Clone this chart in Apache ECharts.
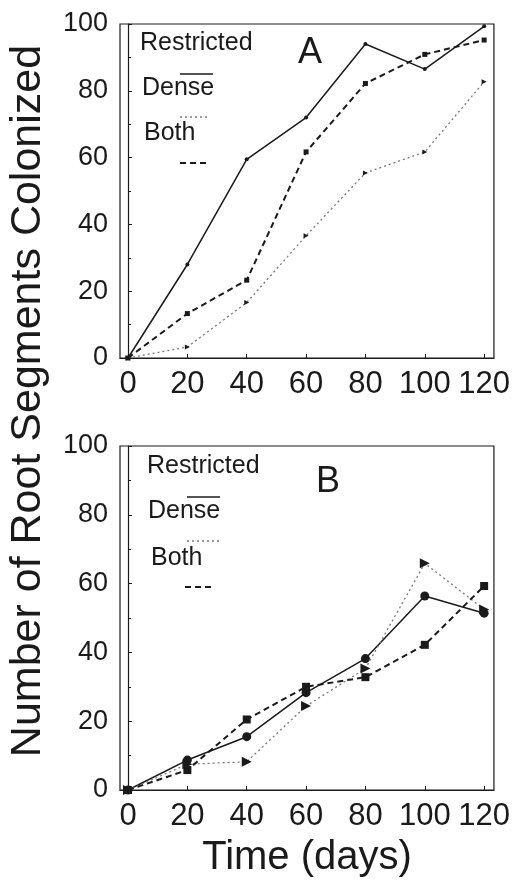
<!DOCTYPE html>
<html>
<head>
<meta charset="utf-8">
<script src="https://cdn.jsdelivr.net/npm/echarts@6/dist/echarts.min.js"></script>
<style>
  html, body { margin: 0; padding: 0; background: #fff; }
  #main { width: 513px; height: 880px; }
</style>
</head>
<body>
<div id="main"></div>
<script>
// days after planting
var days = [0, 20, 40, 60, 80, 100, 120];
var dayTicks = [0, 20, 40, 60, 80, 100, 120];

// panel A
var restrictedA = [0, 28, 59.5, 72, 94, 86.5, 99.3];
var denseA = [0, 3.3, 16.6, 36.6, 55.4, 61.7, 82.7];
var bothA = [0, 13.3, 23.3, 61.7, 82.2, 90.9, 95.2];

// panel B
var restrictedB = [0, 8.7, 15.5, 28.3, 38.2, 56.4, 51.4];
var denseB = [0, 7.5, 8.2, 24.4, 35.3, 65.9, 52.5];
var bothB = [0, 5.8, 20.5, 30, 32.8, 42.2, 59.3];

var FONT = "Liberation Sans, Arial, sans-serif";
var INK = "#1a1a1a";

function pairs(vals) {
  return days.map(function (d, i) { return [d, vals[i]]; });
}

function xAx(idx) {
  return {
    type: "value", gridIndex: idx, min: -2.7, max: 123.3,
    axisLine: { lineStyle: { color: INK, width: 1.2 } },
    axisTick: { customValues: dayTicks, length: 4, inside: true, lineStyle: { color: INK } },
    axisLabel: { customValues: dayTicks, color: INK, fontFamily: FONT, fontSize: 31, margin: 11 },
    splitLine: { show: false }
  };
}
function yAx(idx) {
  return {
    type: "value", gridIndex: idx, min: 0, max: 100, interval: 20,
    axisLine: { show: true, lineStyle: { color: INK, width: 1.2 } },
    axisTick: { show: true, length: 4, inside: true, lineStyle: { color: INK } },
    minorTick: { show: true, splitNumber: 2, length: 3, lineStyle: { color: INK } },
    axisLabel: { color: INK, fontFamily: FONT, fontSize: 27, margin: 12 },
    splitLine: { show: false }
  };
}

var solid = { color: INK, width: 1.5, type: "solid" };
var dotted = { color: "#7a7a7a", width: 1.3, type: [2, 3] };
var dashed = { color: INK, width: 2, type: [6, 4] };

function ser(idx, vals, ls, sym, size, rot) {
  return {
    type: "line", xAxisIndex: idx, yAxisIndex: idx, data: pairs(vals),
    lineStyle: ls, symbol: sym, symbolSize: size, symbolRotate: rot || 0,
    itemStyle: { color: INK }, showSymbol: true, animation: false
  };
}

// legend pieces: label with its line sample under it
function legend(items) {
  var els = [];
  items.forEach(function (it) {
    els.push({ type: "text", left: it.tx, top: it.ty - 14,
      style: { text: it.label, font: "25px " + FONT, fill: INK } });
    els.push({ type: "line", shape: { x1: it.lx1, y1: it.ly, x2: it.lx2, y2: it.ly },
      style: { stroke: it.ls.color, lineWidth: it.ls.width, lineDash: it.ls.type === "solid" ? null : it.ls.type } });
  });
  return els;
}

var graphics = []
  .concat(legend([
    { label: "Restricted", tx: 140, ty: 45, lx1: 180, lx2: 213, ly: 74, ls: solid },
    { label: "Dense", tx: 142, ty: 90, lx1: 180, lx2: 210, ly: 117, ls: dotted },
    { label: "Both", tx: 144, ty: 135, lx1: 180, lx2: 208, ly: 163, ls: dashed }
  ]))
  .concat(legend([
    { label: "Restricted", tx: 147, ty: 468, lx1: 187, lx2: 220, ly: 497, ls: solid },
    { label: "Dense", tx: 148, ty: 513, lx1: 187, lx2: 219, ly: 541, ls: dotted },
    { label: "Both", tx: 151, ty: 560, lx1: 185, lx2: 215, ly: 587, ls: dashed }
  ]))
  .concat([
    { type: "text", x: 310, y: 53, style: { text: "A", font: "36px " + FONT, fill: INK, align: "center", verticalAlign: "middle" } },
    { type: "text", x: 328, y: 482, style: { text: "B", font: "36px " + FONT, fill: INK, align: "center", verticalAlign: "middle" } },
    { type: "text", x: 28, y: 401, rotation: Math.PI / 2,
      style: { text: "Number of Root Segments Colonized", font: "43px " + FONT, fill: INK, align: "center", verticalAlign: "middle" } },
    { type: "text", x: 307, y: 858,
      style: { text: "Time (days)", font: "40px " + FONT, fill: INK, align: "center", verticalAlign: "middle" } }
  ]);

var chart = echarts.init(document.getElementById("main"), null, { renderer: "canvas" });
chart.setOption({
  backgroundColor: "#fff",
  animation: false,
  grid: [
    { left: 120, top: 24, width: 374, height: 334, show: true, borderColor: INK, borderWidth: 1.2, backgroundColor: "transparent" },
    { left: 120, top: 446, width: 374, height: 344, show: true, borderColor: INK, borderWidth: 1.2, backgroundColor: "transparent" }
  ],
  xAxis: [xAx(0), xAx(1)],
  yAxis: [yAx(0), yAx(1)],
  series: [
    ser(0, restrictedA, solid, "circle", 4),
    ser(0, denseA, dotted, "triangle", 5, -90),
    ser(0, bothA, dashed, "rect", 5),
    ser(1, restrictedB, solid, "circle", 9),
    ser(1, denseB, dotted, "triangle", 10, -90),
    ser(1, bothB, dashed, "rect", 8)
  ],
  graphic: graphics
});
</script>
</body>
</html>
